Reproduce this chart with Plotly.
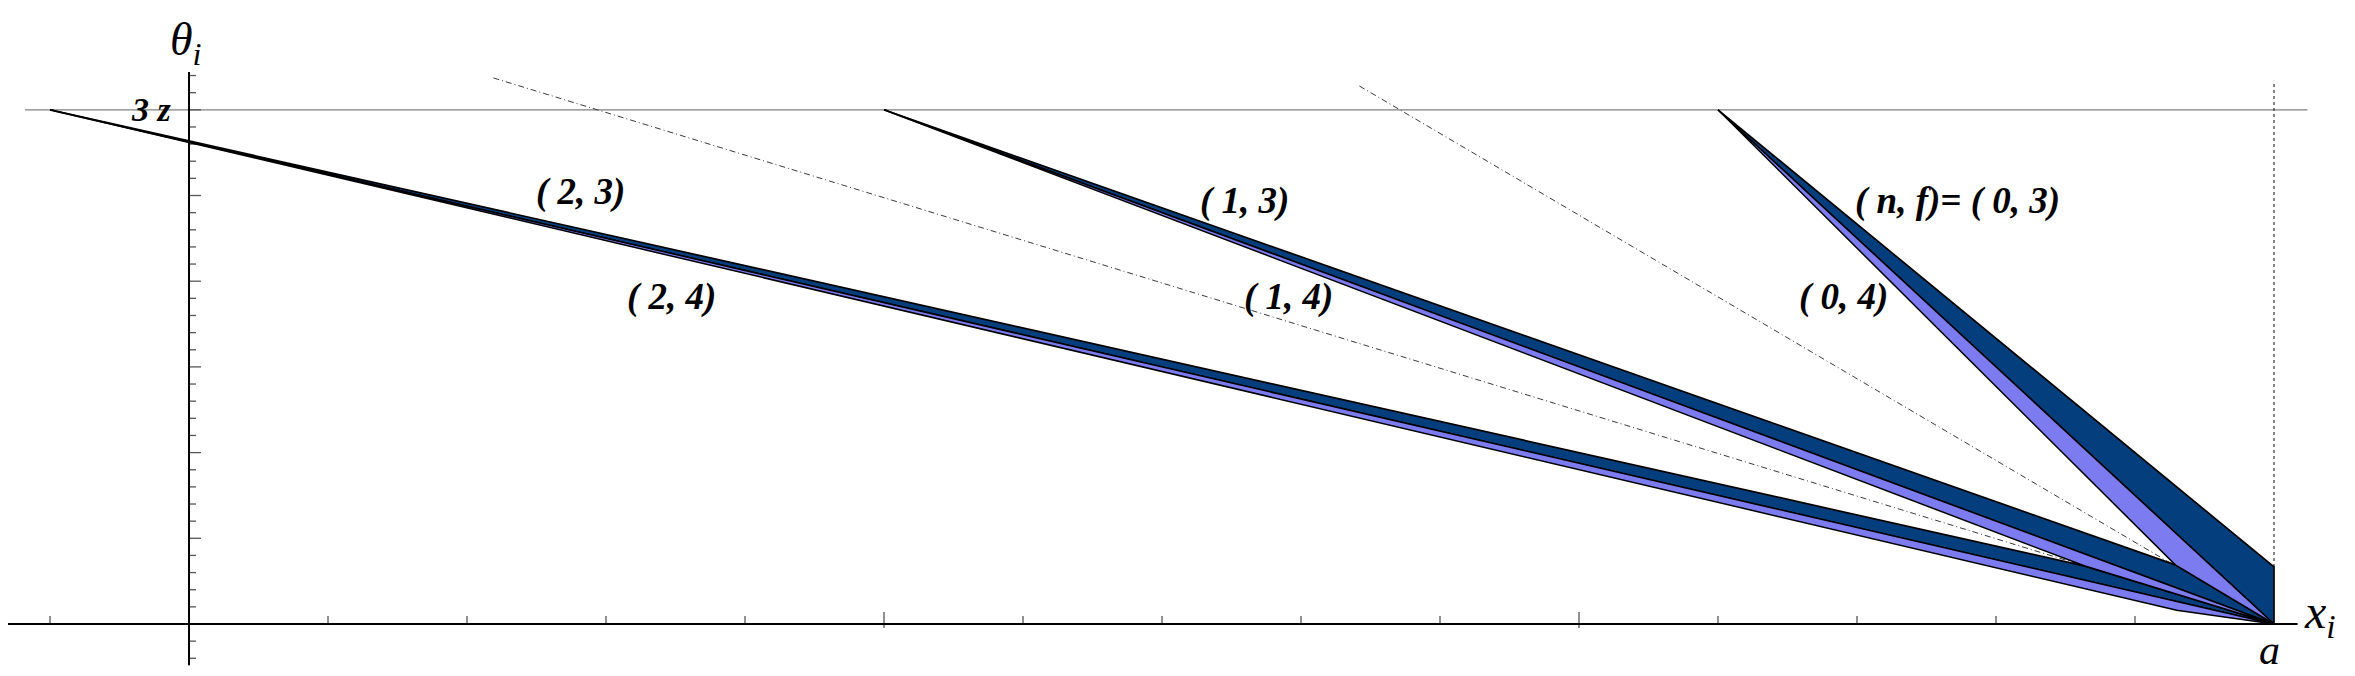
import plotly.graph_objects as go

# ---------------- data (x in units of the x_i axis, a = 15; theta in units of z) ----------------
A_X = 15.0            # the point a on the x_i axis
TOP = 3.0             # the 3z level

# dark bands (n, 3): triangles  start -> upper end -> apex
dark_labels = ["(0,3)", "(1,3)", "(2,3)"]
dark_x = [[11.0, 15.0, 15.0], [5.0, 14.29, 15.0], [-1.0, 13.64, 15.0]]
dark_y = [[3.0, 0.333, 0.0], [3.0, 0.345, 0.0], [3.0, 0.338, 0.0]]

# light bands (n, 4): triangles  start -> apex -> lower tip
light_labels = ["(0,4)", "(1,4)", "(2,4)"]
light_x = [[11.0, 15.0, 14.29], [5.0, 15.0, 13.64], [-1.0, 15.0, 14.3]]
light_y = [[3.0, 0.0, 0.345], [3.0, 0.0, 0.338], [3.0, 0.0, 0.08]]

# dash-dot guide lines: start -> apex
guide_x = [[2.19, 15.0], [8.42, 15.0]]
guide_y = [[3.186, 0.0], [3.139, 0.0]]

# axes extents
x_axis_span = [-1.34, 15.17]
y_axis_span = [-0.24, 3.22]
top_line_span = [-1.18, 15.24]
vline_span = [0.333, 3.17]

# ticks
x_minor_ticks = [-1, 1, 2, 3, 4, 6, 7, 8, 9, 11, 12, 13, 14]
x_major_ticks = [5, 10]
y_ticks = [round(-0.2 + 0.1 * i, 1) for i in range(35)]

# text labels
band_texts = ["( 2, 3)", "( 2, 4)", "( 1, 3)", "( 1, 4)", "( <i>n</i>, <i>f</i>)= ( 0, 3)", "( 0, 4)"]
band_text_x = [2.82, 3.47, 7.59, 7.91, 12.72, 11.90]
band_text_y = [2.52, 1.91, 2.47, 1.91, 2.47, 1.91]

DARK = "#053e7c"
LIGHT = "#7c7cf0"

# ---------------- figure ----------------
# the page body adds an 8px margin, so the figure is placed 8px in from the top-left corner
W, H = 2347, 668
XR = [-1.3022, 15.5827]
YR = [-0.3034, 3.594]
px_x = (XR[1] - XR[0]) / W
px_y = (YR[1] - YR[0]) / H

fig = go.Figure()

# top 3z line
fig.add_trace(go.Scatter(x=top_line_span, y=[TOP, TOP], mode="lines",
                         line=dict(color="#808080", width=1.2), hoverinfo="skip"))
# vertical dotted line at a
fig.add_trace(go.Scatter(x=[A_X, A_X], y=vline_span, mode="lines",
                         line=dict(color="#333333", width=1.2, dash="3px,3px"), hoverinfo="skip"))
# guide lines
for gx, gy in zip(guide_x, guide_y):
    fig.add_trace(go.Scatter(x=gx, y=gy, mode="lines",
                             line=dict(color="#3a3a3a", width=1, dash="6px,3px,1px,3px"),
                             hoverinfo="skip"))

# ticks
tx, ty = [], []
for v in x_minor_ticks:
    tx += [v, v, None]
    ty += [0, 8 * px_y, None]
for v in x_major_ticks:
    tx += [v, v, None]
    ty += [-4 * px_y, 12 * px_y, None]
for v in y_ticks:
    major = abs(v * 2 - round(v * 2)) < 1e-6
    tx += [0, (12 if major else 7) * px_x, None]
    ty += [v, v, None]
fig.add_trace(go.Scatter(x=tx, y=ty, mode="lines", line=dict(color="#555555", width=1.3),
                         hoverinfo="skip"))

# axes
fig.add_trace(go.Scatter(x=x_axis_span, y=[0, 0], mode="lines",
                         line=dict(color="black", width=2.2), hoverinfo="skip"))
fig.add_trace(go.Scatter(x=[0, 0], y=y_axis_span, mode="lines",
                         line=dict(color="black", width=2), hoverinfo="skip"))

# bands
for name, bx, by in zip(dark_labels, dark_x, dark_y):
    fig.add_trace(go.Scatter(x=bx + [bx[0]], y=by + [by[0]], mode="lines", fill="toself",
                             fillcolor=DARK, line=dict(color="black", width=1.7),
                             name=name, hoverinfo="skip"))
for name, bx, by in zip(light_labels, light_x, light_y):
    fig.add_trace(go.Scatter(x=bx + [bx[0]], y=by + [by[0]], mode="lines", fill="toself",
                             fillcolor=LIGHT, line=dict(color="black", width=1.5),
                             name=name, hoverinfo="skip"))

annotations = []
for t, x, y in zip(band_texts, band_text_x, band_text_y):
    annotations.append(dict(x=x, y=y, text="<b><i>" + t + "</i></b>", showarrow=False,
                            font=dict(family="Liberation Serif", size=37, color="black"),
                            xanchor="center", yanchor="middle"))
annotations.append(dict(x=-0.11, y=3.0, text="<b><i>3 z</i></b>", showarrow=False,
                        font=dict(family="Liberation Serif", size=34, color="black"),
                        xanchor="right", yanchor="middle"))
annotations.append(dict(x=-0.02, y=3.39, text="<i>θ</i><sub><i>i</i></sub>", showarrow=False,
                        font=dict(family="Liberation Serif", size=46, color="black"),
                        xanchor="center", yanchor="middle"))
annotations.append(dict(x=15.33, y=0.05, text="<i>x</i><sub><i>i</i></sub>", showarrow=False,
                        font=dict(family="Liberation Serif", size=48, color="black"),
                        xanchor="center", yanchor="middle"))
annotations.append(dict(x=14.97, y=-0.15, text="<i>a</i>", showarrow=False,
                        font=dict(family="Liberation Serif", size=42, color="black"),
                        xanchor="center", yanchor="middle"))

fig.update_layout(
    width=W, height=H, margin=dict(l=0, r=0, t=0, b=0),
    paper_bgcolor="white", plot_bgcolor="white", showlegend=False,
    xaxis=dict(range=XR, visible=False, fixedrange=True),
    yaxis=dict(range=YR, visible=False, fixedrange=True),
    annotations=annotations,
)

fig.write_html("out.html")
